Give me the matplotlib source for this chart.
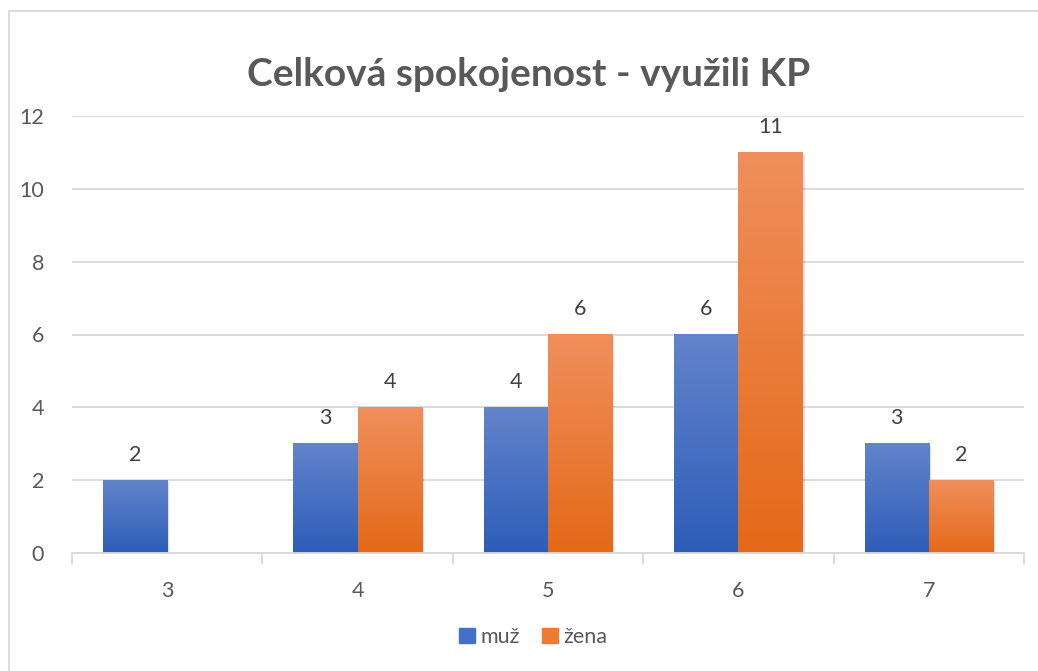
import numpy as np
import matplotlib.pyplot as plt
from matplotlib.patches import Rectangle
from matplotlib.colors import LinearSegmentedColormap

categories = ['3', '4', '5', '6', '7']
muz = [2, 3, 4, 6, 3]
zena = [0, 4, 6, 11, 2]
series_names = ['muž', 'žena']

plt.rcParams['font.family'] = ['Lato', 'DejaVu Sans']

W, H = 1038, 671
fig = plt.figure(figsize=(W / 100, H / 100), dpi=100)

# chart frame (only left and top edges are visible in the reference)
fig.patches.append(Rectangle((9 / W, -0.1), 1.2, (H - 11) / H + 0.1,
                             transform=fig.transFigure, fill=False,
                             edgecolor='#D9D9D9', lw=1.3))

ax = fig.add_axes([72 / W, (H - 553) / H, (1024 - 72) / W, (553 - 116) / H])

blue_cmap = LinearSegmentedColormap.from_list('b', ['#2D5DB8', '#6284CB'])
orange_cmap = LinearSegmentedColormap.from_list('o', ['#E46918', '#F08F5C'])
grad = np.linspace(0, 1, 256).reshape(-1, 1)

x = np.arange(len(categories))
bw = 0.337


def gradient_bars(xs, vals, cmap):
    for xi, v in zip(xs, vals):
        if v <= 0:
            continue
        # soft shadow
        ax.add_patch(Rectangle((xi - bw / 2 + 0.012, -0.05), bw, v, color='#000000',
                               alpha=0.12, lw=0, zorder=2))
        ax.imshow(grad, cmap=cmap, origin='lower', aspect='auto',
                  extent=(xi - bw / 2, xi + bw / 2, 0, v), zorder=3)
        ax.text(xi, v + 0.42, str(v), ha='center', va='bottom',
                fontsize=15.5, color='#404040', zorder=4)


gradient_bars(x - bw / 2, muz, blue_cmap)
gradient_bars(x + bw / 2, zena, orange_cmap)

ax.set_xlim(-0.5, len(categories) - 0.5)
ax.set_ylim(0, 12)
ax.set_yticks(range(0, 13, 2))
ax.yaxis.grid(True, color='#D9D9D9', lw=1.3)
ax.set_axisbelow(True)
for s in ['top', 'right', 'left']:
    ax.spines[s].set_visible(False)
ax.spines['bottom'].set_color('#D9D9D9')
ax.spines['bottom'].set_linewidth(1.3)
ax.spines['bottom'].set_zorder(5)

ax.set_xticks(x)
ax.set_xticklabels(categories)
ax.set_xticks(np.arange(-0.5, len(categories)), minor=True)
ax.tick_params(axis='x', which='major', length=0, pad=20, labelsize=15.5, labelcolor='#595959')
ax.tick_params(axis='x', which='minor', length=8, width=1.3, color='#D9D9D9')
ax.tick_params(axis='y', length=0, pad=20, labelsize=15.5, labelcolor='#595959')

fig.text(529 / W, 1 - 75 / H, 'Celková spokojenost - využili KP', ha='center', va='center',
         fontsize=28, fontweight='bold', color='#595959')

handles = [Rectangle((0, 0), 1, 1, color='#4170C6'), Rectangle((0, 0), 1, 1, color='#EF7B30')]
fig.legend(handles, series_names, loc='center', bbox_to_anchor=(533 / W, 1 - 637 / H),
           ncol=2, frameon=False, fontsize=15.5, labelcolor='#595959',
           handlelength=0.75, handleheight=0.75, handletextpad=0.25, columnspacing=1.0)

fig.savefig('out.png', dpi=100)
